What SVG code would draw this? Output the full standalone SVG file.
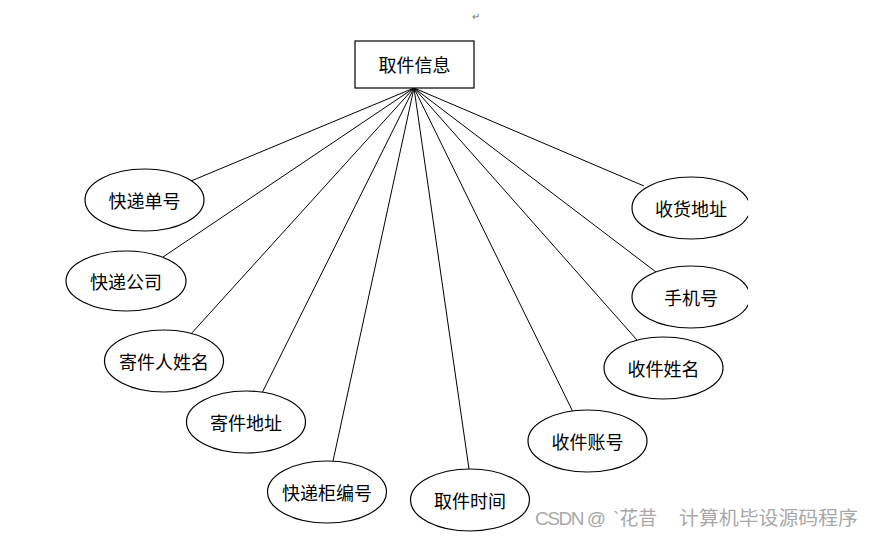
<svg xmlns="http://www.w3.org/2000/svg" width="873" height="537" viewBox="0 0 873 537">
<style>
.n{fill:#fff;stroke:#000;stroke-width:1.2}
.t{font-family:"Noto Sans CJK SC","Liberation Serif",serif;font-size:18px;fill:#000;text-anchor:middle;dominant-baseline:central}
#edges line{stroke:#000;stroke-width:1}
.wm{font-family:"Liberation Sans","Noto Sans CJK SC",sans-serif;font-size:19px;fill:#a8a8a8}
</style>
<defs>
<clipPath id="pg"><rect x="0" y="0" width="748" height="537"/></clipPath>
</defs>
<rect width="873" height="537" fill="#fff"/>
<text x="472" y="20" font-family="Liberation Sans,sans-serif" font-size="10" fill="#777">↵</text>
<g id="edges">
<line x1="414" y1="88" x2="191" y2="181"/>
<line x1="414" y1="88" x2="163" y2="257"/>
<line x1="414" y1="88" x2="190" y2="335"/>
<line x1="414" y1="88" x2="262" y2="393"/>
<line x1="414" y1="88" x2="333" y2="461"/>
<line x1="414" y1="88" x2="469" y2="469"/>
<line x1="414" y1="88" x2="573" y2="412"/>
<line x1="414" y1="88" x2="637" y2="340"/>
<line x1="414" y1="88" x2="656" y2="272"/>
<line x1="414" y1="88" x2="644" y2="186"/>
</g>
<g id="root"><rect class="n" x="355" y="41" width="119" height="47"/><text class="t" x="414.5" y="64">取件信息</text></g>
<g id="n1"><ellipse class="n" cx="144.5" cy="200" rx="59.5" ry="31"/><text class="t" x="144.5" y="200">快递单号</text></g>
<g id="n2"><ellipse class="n" cx="126" cy="281" rx="60" ry="30"/><text class="t" x="126" y="281">快递公司</text></g>
<g id="n3"><ellipse class="n" cx="164" cy="361" rx="59.5" ry="31"/><text class="t" x="164" y="361">寄件人姓名</text></g>
<g id="n4"><ellipse class="n" cx="246" cy="422" rx="59.5" ry="31"/><text class="t" x="246" y="422">寄件地址</text></g>
<g id="n5"><ellipse class="n" cx="327" cy="492" rx="59.5" ry="31"/><text class="t" x="327" y="492">快递柜编号</text></g>
<g id="n6"><ellipse class="n" cx="470" cy="500" rx="59.5" ry="31"/><text class="t" x="470" y="500">取件时间</text></g>
<g id="n7"><ellipse class="n" cx="587.5" cy="441" rx="59.5" ry="31"/><text class="t" x="587.5" y="441">收件账号</text></g>
<g id="n8"><ellipse class="n" cx="663.5" cy="368" rx="59.5" ry="31"/><text class="t" x="663.5" y="368">收件姓名</text></g>
<g id="n9"><ellipse class="n" cx="691" cy="297" rx="59" ry="31" clip-path="url(#pg)"/><text class="t" x="691" y="297">手机号</text></g>
<g id="n10"><ellipse class="n" cx="691" cy="208" rx="59" ry="31" clip-path="url(#pg)"/><text class="t" x="691" y="208">收货地址</text></g>
<text class="wm" y="525"><tspan x="535" textLength="71">CSDN @</tspan><tspan x="613">`花昔</tspan><tspan x="679" textLength="179" lengthAdjust="spacingAndGlyphs">计算机毕设源码程序</tspan></text>
</svg>
